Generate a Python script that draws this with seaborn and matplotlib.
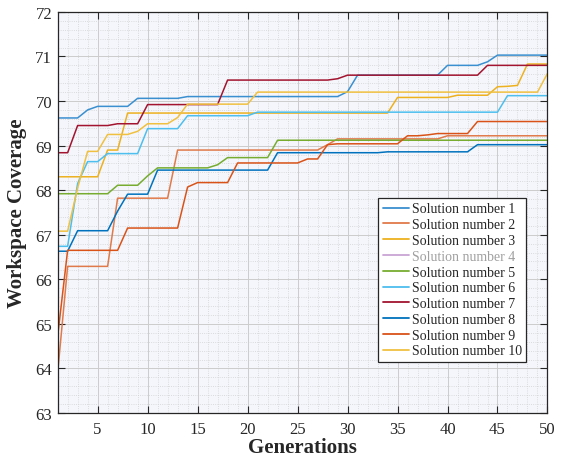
import matplotlib
matplotlib.use("Agg")
import matplotlib.pyplot as plt
from matplotlib.lines import Line2D
from matplotlib.ticker import MultipleLocator
import pandas as pd
import seaborn as sns

generations = list(range(1, 51))

sol1 = [69.62, 69.62, 69.62, 69.80, 69.88, 69.88, 69.88, 69.88, 70.06, 70.06,
        70.06, 70.06, 70.06, 70.10, 70.10, 70.10, 70.10, 70.10, 70.10, 70.10,
        70.10, 70.10, 70.10, 70.10, 70.10, 70.10, 70.10, 70.10, 70.10, 70.21,
        70.58, 70.58, 70.58, 70.58, 70.58, 70.58, 70.58, 70.58, 70.58, 70.80,
        70.80, 70.80, 70.80, 70.88, 71.03, 71.03, 71.03, 71.03, 71.03, 71.03]
sol2 = [63.90, 66.29, 66.29, 66.29, 66.29, 66.29, 67.82, 67.82, 67.82, 67.82,
        67.82, 67.82, 68.90, 68.90, 68.90, 68.90, 68.90, 68.90, 68.90, 68.90,
        68.90, 68.90, 68.90, 68.90, 68.90, 68.90, 68.90, 69.02, 69.15, 69.15,
        69.15, 69.15, 69.15, 69.15, 69.15, 69.15, 69.15, 69.15, 69.15, 69.22,
        69.22, 69.22, 69.22, 69.22, 69.22, 69.22, 69.22, 69.22, 69.22, 69.22]
sol3 = [68.30, 68.30, 68.30, 68.30, 68.30, 68.90, 68.90, 69.73, 69.73, 69.73,
        69.73, 69.73, 69.73, 69.73, 69.73, 69.73, 69.73, 69.73, 69.73, 69.73,
        69.73, 69.73, 69.73, 69.73, 69.73, 69.73, 69.73, 69.73, 69.73, 69.73,
        69.73, 69.73, 69.73, 69.73, 70.08, 70.08, 70.08, 70.08, 70.08, 70.08,
        70.13, 70.13, 70.13, 70.13, 70.32, 70.33, 70.35, 70.83, 70.83, 70.83]
# solution 4 is hidden in the original figure (greyed legend entry only)
sol5 = [67.92, 67.92, 67.92, 67.92, 67.92, 67.92, 68.11, 68.11, 68.11, 68.32,
        68.50, 68.50, 68.50, 68.50, 68.50, 68.50, 68.57, 68.73, 68.73, 68.73,
        68.73, 68.73, 69.12, 69.12, 69.12, 69.12, 69.12, 69.12, 69.12, 69.12,
        69.12, 69.12, 69.12, 69.12, 69.12, 69.12, 69.12, 69.12, 69.12, 69.12,
        69.12, 69.12, 69.12, 69.12, 69.12, 69.12, 69.12, 69.12, 69.12, 69.12]
sol6 = [66.74, 66.74, 68.15, 68.64, 68.64, 68.82, 68.82, 68.82, 68.82, 69.38,
        69.38, 69.38, 69.38, 69.67, 69.67, 69.67, 69.67, 69.67, 69.67, 69.67,
        69.75, 69.75, 69.75, 69.75, 69.75, 69.75, 69.75, 69.75, 69.75, 69.75,
        69.75, 69.75, 69.75, 69.75, 69.75, 69.75, 69.75, 69.75, 69.75, 69.75,
        69.75, 69.75, 69.75, 69.75, 69.75, 70.12, 70.12, 70.12, 70.12, 70.12]
sol7 = [68.84, 68.84, 69.45, 69.45, 69.45, 69.45, 69.49, 69.49, 69.49, 69.92,
        69.92, 69.92, 69.92, 69.92, 69.92, 69.92, 69.92, 70.47, 70.47, 70.47,
        70.47, 70.47, 70.47, 70.47, 70.47, 70.47, 70.47, 70.47, 70.50, 70.58,
        70.58, 70.58, 70.58, 70.58, 70.58, 70.58, 70.58, 70.58, 70.58, 70.58,
        70.58, 70.58, 70.58, 70.80, 70.80, 70.80, 70.80, 70.80, 70.80, 70.80]
sol8 = [66.63, 66.63, 67.09, 67.09, 67.09, 67.09, 67.53, 67.91, 67.91, 67.91,
        68.45, 68.45, 68.45, 68.45, 68.45, 68.45, 68.45, 68.45, 68.45, 68.45,
        68.45, 68.45, 68.84, 68.84, 68.84, 68.84, 68.84, 68.84, 68.84, 68.84,
        68.84, 68.84, 68.84, 68.86, 68.86, 68.86, 68.86, 68.86, 68.86, 68.86,
        68.86, 68.86, 69.02, 69.02, 69.02, 69.02, 69.02, 69.02, 69.02, 69.02]
sol9 = [64.72, 66.65, 66.65, 66.65, 66.65, 66.65, 66.65, 67.15, 67.15, 67.15,
        67.15, 67.15, 67.15, 68.07, 68.17, 68.17, 68.17, 68.17, 68.61, 68.61,
        68.61, 68.61, 68.61, 68.61, 68.61, 68.70, 68.70, 69.02, 69.04, 69.04,
        69.04, 69.04, 69.04, 69.04, 69.04, 69.22, 69.22, 69.24, 69.27, 69.27,
        69.27, 69.27, 69.54, 69.54, 69.54, 69.54, 69.54, 69.54, 69.54, 69.54]
sol10 = [67.08, 67.08, 68.05, 68.87, 68.87, 69.25, 69.25, 69.25, 69.32, 69.49,
         69.49, 69.49, 69.63, 69.93, 69.93, 69.93, 69.93, 69.93, 69.93, 69.93,
         70.20, 70.20, 70.20, 70.20, 70.20, 70.20, 70.20, 70.20, 70.20, 70.20,
         70.20, 70.20, 70.20, 70.20, 70.20, 70.20, 70.20, 70.20, 70.20, 70.20,
         70.20, 70.20, 70.20, 70.20, 70.20, 70.20, 70.20, 70.20, 70.20, 70.62]

labels = [f"Solution number {i}" for i in range(1, 11)]
series = {1: sol1, 2: sol2, 3: sol3, 5: sol5, 6: sol6, 7: sol7, 8: sol8, 9: sol9, 10: sol10}

# MATLAB default colour order
colors = {1: "#3a8fd0", 2: "#e07a4a", 3: "#EDB120", 4: "#c9a6d6", 5: "#77AC30",
          6: "#4DBEEE", 7: "#A2142F", 8: "#0072BD", 9: "#D95319", 10: "#f0c040"}

rows = []
for k, vals in series.items():
    for g, v in zip(generations, vals):
        rows.append((g, v, labels[k - 1]))
df = pd.DataFrame(rows, columns=["Generation", "Coverage", "Solution"])

sns.set_theme(style="white")
plt.rcParams["font.family"] = ["Liberation Serif", "DejaVu Serif"]

fig = plt.figure(figsize=(5.65, 4.6), dpi=100)
ax = fig.add_axes([0.102, 0.1, 0.867, 0.872])
ax.set_facecolor("#f4f6fb")

hue_order = [labels[k - 1] for k in series]
palette = {labels[k - 1]: colors[k] for k in series}
sns.lineplot(data=df, x="Generation", y="Coverage", hue="Solution",
             hue_order=hue_order, palette=palette, linewidth=1.1,
             legend=False, ax=ax)

ax.set_xlim(1, 50)
ax.set_ylim(63, 72)
ax.set_xticks(range(5, 51, 5))
ax.set_yticks(range(63, 73))
ax.xaxis.set_minor_locator(MultipleLocator(1))
ax.yaxis.set_minor_locator(MultipleLocator(0.2))
ax.grid(which="major", color="#cccccc", linewidth=0.7, linestyle="-")
ax.grid(which="minor", color="#d2d2d2", linewidth=0.6, linestyle=":")
ax.set_axisbelow(True)
ax.tick_params(which="major", direction="in", top=True, right=True,
               length=5, width=0.8, labelsize=12, colors="#262626",
               bottom=True, left=True)
ax.tick_params(axis="x", which="major", pad=6)
ax.tick_params(axis="y", which="major", pad=4)
ax.tick_params(which="minor", length=0)
for sp in ax.spines.values():
    sp.set_color("#262626")
    sp.set_linewidth(0.9)

ax.set_xlabel("Generations", fontsize=15, fontweight="bold", labelpad=0)
ax.set_ylabel("Workspace Coverage", fontsize=15, fontweight="bold", labelpad=6)

handles = [Line2D([], [], color=colors[i], linewidth=1.3) for i in range(1, 11)]
leg = ax.legend(handles, labels, loc="lower left", bbox_to_anchor=(0.655, 0.128),
                fontsize=10, frameon=True, fancybox=False, framealpha=1,
                edgecolor="#262626", borderpad=0.3, labelspacing=0.2,
                handlelength=1.9, handletextpad=0.2, borderaxespad=0)
leg.get_frame().set_linewidth(0.9)
leg.get_texts()[3].set_color("#a0a0a0")

fig.savefig("out.png", dpi=100)
